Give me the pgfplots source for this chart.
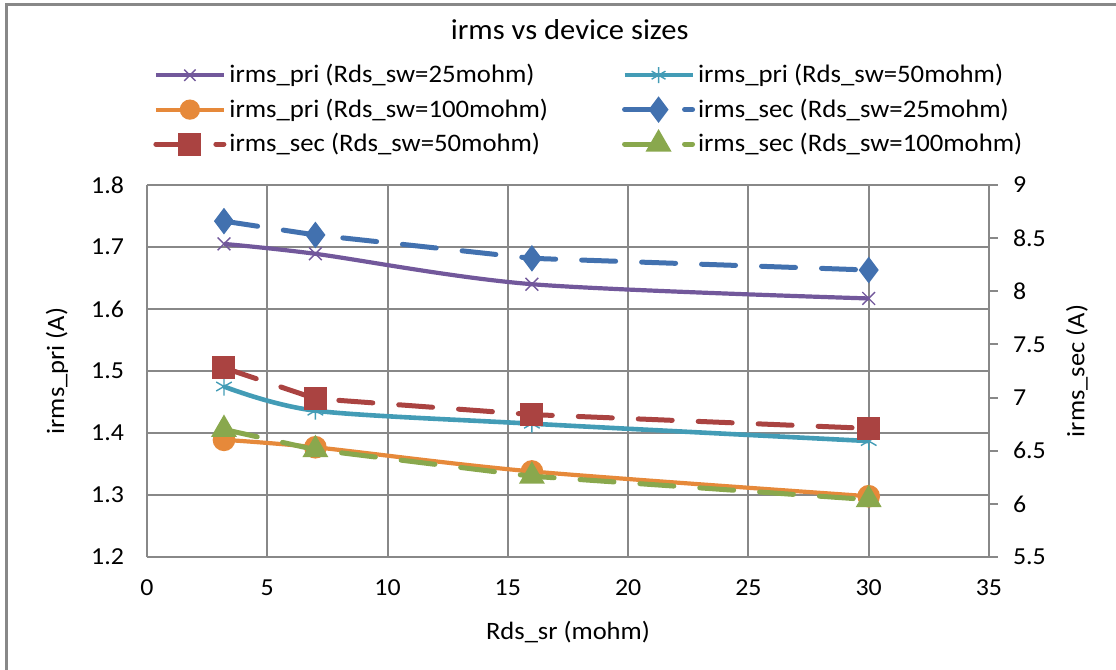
\documentclass[border=0pt]{standalone}
\usepackage{fontspec}
\setmainfont[FakeStretch=1.06]{Carlito}
\usepackage{pgfplots}
\pgfplotsset{compat=1.18}
\definecolor{gridgray}{RGB}{136,136,136}
\definecolor{cpurple}{RGB}{114,88,155}
\definecolor{ccyan}{RGB}{67,156,182}
\definecolor{corange}{RGB}{230,137,58}
\definecolor{cblue}{RGB}{66,113,175}
\definecolor{cred}{RGB}{170,67,65}
\definecolor{cgreen}{RGB}{137,168,77}
\newcommand{\ft}{\fontsize{12.5}{15}\selectfont}
\newcommand{\ftk}{\fontsize{12.2}{14.6}\selectfont}
\newcommand{\fl}{\fontsize{12.6}{15}\selectfont}
\pgfplotsset{
  myleg/.style={legend image code/.code={\draw[mark repeat=2,mark phase=2,##1] plot coordinates {(0pt,0pt) (17pt,0pt) (34pt,0pt)};}},
  secdash/.style={dash pattern=on 17pt off 13pt, line cap=round}
}
\begin{document}
\begin{tikzpicture}
\useasboundingbox (-73.5pt,-56.5pt) rectangle (484.5pt,278.5pt);
\draw[gridgray, line width=1.5pt] (-70pt,-70pt) -- (-70pt,276pt) -- (500pt,276pt);
\begin{axis}[
  at={(0pt,0pt)}, anchor=south west, scale only axis,
  width=421pt, height=186pt,
  xmin=0, xmax=35, ymin=1.2, ymax=1.8,
  xtick={0,5,...,35}, ytick={1.2,1.3,...,1.8},
  grid=major, major grid style={draw=gridgray, line width=1pt},
  axis lines*=left, axis line style={draw=gridgray, line width=1pt},
  tick style={draw=none},
  tick label style={font=\ftk},
  xticklabel={\pgfmathprintnumber[assume math mode=true]{\tick}},
  yticklabel={\pgfmathprintnumber[assume math mode=true,fixed,fixed zerofill,precision=1]{\tick}},
  yticklabel style={anchor=east, xshift=-8pt},
  xticklabel style={yshift=-8pt},
  xlabel={Rds\_sr (mohm)}, ylabel={irms\_pri (A)},
  label style={font=\ft},
  xlabel style={at={(rel axis cs:0.5,-0.2016)}, anchor=center},
  ylabel style={at={(rel axis cs:-0.1069,0.5)}, anchor=center, rotate=0},
  title={\fontsize{14.4}{17}\selectfont irms vs device sizes},
  title style={at={(rel axis cs:0.502,1.3844)}, anchor=center},
]
\addplot[cpurple, line width=2.1pt, smooth, mark=x, mark size=4.5pt, mark options={solid, line width=0.7pt}]
  coordinates {(3.2,1.705) (7,1.689) (16,1.640) (30,1.617)};
\addplot[ccyan, line width=2.3pt, smooth, mark=asterisk, mark size=4.5pt, mark options={solid, line width=0.7pt}]
  coordinates {(3.2,1.475) (7,1.436) (16,1.415) (30,1.387)};
\addplot[corange, line width=2.1pt, smooth, mark=*, mark size=4.6pt, mark options={solid, fill=corange, draw=corange}]
  coordinates {(3.2,1.389) (7,1.377) (16,1.338) (30,1.298)};
\end{axis}
\begin{axis}[
  at={(0pt,0pt)}, anchor=south west, scale only axis,
  width=421pt, height=186pt,
  xmin=0, xmax=35, ymin=5.5, ymax=9,
  ytick={5.5,6,...,9},
  axis x line=none, axis y line*=right,
  axis line style={draw=gridgray, line width=1pt},
  tick align=outside, major tick length=4.5pt,
  ytick style={draw=gridgray, line width=1pt},
  tick label style={font=\ftk},
  yticklabel={\pgfmathprintnumber[assume math mode=true]{\tick}},
  yticklabel style={anchor=west, xshift=4pt},
  ylabel={irms\_sec (A)},
  label style={font=\ft},
  ylabel style={at={(rel axis cs:1.1045,0.5)}, anchor=center, rotate=0},
  myleg,
  legend columns=2,
  legend cell align=left,
  legend style={draw=none, fill=none, font=\fl, at={(rel axis cs:0.0,1.3466)}, anchor=north west,
    row sep=2.5pt,
    /tikz/every odd column/.append style={column sep=-0.5pt},
    /tikz/every even column/.append style={column sep=35pt}},
]
\addlegendimage{cpurple, line width=2.1pt, mark=x, mark size=4pt, mark options={solid, line width=0.7pt}}
\addlegendentry{irms\_pri (Rds\_sw=25mohm)}
\addlegendimage{ccyan, line width=2.3pt, mark=asterisk, mark size=4pt, mark options={solid, line width=0.7pt}}
\addlegendentry{irms\_pri (Rds\_sw=50mohm)}
\addlegendimage{corange, line width=2.1pt, mark=*, mark size=4pt, mark options={solid, fill=corange, draw=corange}}
\addlegendentry{irms\_pri (Rds\_sw=100mohm)}
\addplot[cblue, line width=2.5pt, secdash, mark=diamond*, mark size=4.6pt, mark options={solid, fill=cblue, draw=cblue}]
  coordinates {(3.2,8.66) (7,8.53) (16,8.31) (30,8.20)};
\addlegendentry{irms\_sec (Rds\_sw=25mohm)}
\addplot[cred, line width=2.5pt, secdash, mark=square*, mark size=4.5pt, mark options={solid, fill=cred, draw=cred}]
  coordinates {(3.2,7.28) (7,6.99) (16,6.84) (30,6.71)};
\addlegendentry{irms\_sec (Rds\_sw=50mohm)}
\addplot[cgreen, line width=2.5pt, secdash, mark=triangle*, mark size=5pt, mark options={solid, fill=cgreen, draw=cgreen}]
  coordinates {(3.2,6.70) (7,6.51) (16,6.26) (30,6.04)};
\addlegendentry{irms\_sec (Rds\_sw=100mohm)}
\end{axis}
\end{tikzpicture}
\end{document}
